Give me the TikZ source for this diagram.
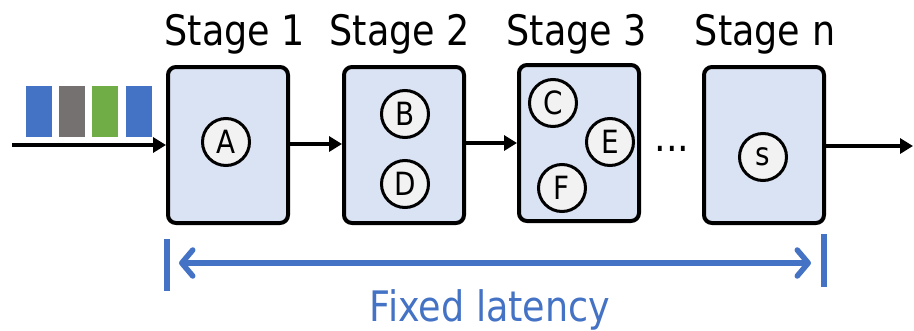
\documentclass[tikz,border=0pt]{standalone}
\usepackage{fontspec}
\setmainfont{DejaVu Sans}[FakeStretch=0.87]
\usetikzlibrary{arrows.meta}
\definecolor{stagefill}{HTML}{DAE3F3}
\definecolor{opfill}{HTML}{F2F2F2}
\definecolor{accent}{HTML}{4472C4}
\definecolor{pktgray}{HTML}{767171}
\definecolor{pktgreen}{HTML}{70AD47}
\tikzset{
  stagebox/.style={draw=black, line width=4pt, fill=stagefill, rounded corners=8pt,
    minimum width=120pt, minimum height=156pt, inner sep=0pt},
  op/.style={circle, draw=black, line width=3pt, fill=opfill, minimum size=47pt,
    inner sep=0pt, font=\fontsize{32}{34}\selectfont},
  title/.style={anchor=base, font=\fontsize{42}{48}\selectfont},
  flow/.style={line width=4.5pt, -{Triangle[length=13pt,width=15pt]}},
  packet/.style={minimum width=26pt, minimum height=51pt, inner sep=0pt, draw=none},
  marker/.style={draw=accent, line width=6pt},
  span/.style={draw=accent, line width=5.5pt, line cap=round,
    {Straight Barb[length=11pt,width=26pt,line cap=round,line join=round]}-{Straight Barb[length=11pt,width=26pt,line cap=round,line join=round]}}
}
\begin{document}
\begin{tikzpicture}[x=1pt,y=-1pt]
\useasboundingbox (0,0) rectangle (914,330);

% stage titles
\node[title] (t1) at (235,45) {Stage 1};
\node[title] (t2) at (400,45) {Stage 2};
\node[title] (t3) at (577,45) {Stage 3};
\node[title] (tn) at (765,45) {Stage n};

% pipeline stages
\node[stagebox] (s1) at (228,145) {};
\node[stagebox] (s2) at (404,145) {};
\node[stagebox] (s3) at (579,143) {};
\node[stagebox] (sn) at (764,145) {};

% operations inside the stages
\node[op] (A) at (226,142) {A};
\node[op] (B) at (405,114) {B};
\node[op] (D) at (405,184) {D};
\node[op] (C) at (553,103) {C};
\node[op] (E) at (610,142) {E};
\node[op] (F) at (562,188) {F};
\node[op] (S) at (763,157) {s};

% incoming packets
\node[packet, fill=accent]    (p1) at (39,111.5) {};
\node[packet, fill=pktgray]   (p2) at (72,111.5) {};
\node[packet, fill=pktgreen]  (p3) at (105,111.5) {};
\node[packet, fill=accent]    (p4) at (139,111.5) {};

% data flow
\coordinate (in) at (12,145);
\coordinate (out) at (913,146);
\draw[flow] (in) -- (s1.west |- in);
\draw[flow] (s1.east |- 0,144) -- (s2.west |- 0,144);
\draw[flow] (s2.east |- 0,143) -- (s3.west |- 0,143);
\draw[flow] (sn.east |- out) -- (out);

% elided stages
\node[anchor=base, font=\fontsize{42}{48}\selectfont] (dots) at (672,151) {...};

% latency span
\coordinate (m1a) at (167,239);
\coordinate (m1b) at (167,291);
\coordinate (m2a) at (824,234);
\coordinate (m2b) at (824,287);
\draw[marker] (m1a) -- (m1b);
\draw[marker] (m2a) -- (m2b);
\coordinate (la) at (179,263);
\coordinate (ra) at (811,263);
\draw[span] (la) -- (ra);
\node[title, text=accent] (lat) at (490,321) {Fixed latency};
\end{tikzpicture}
\end{document}
